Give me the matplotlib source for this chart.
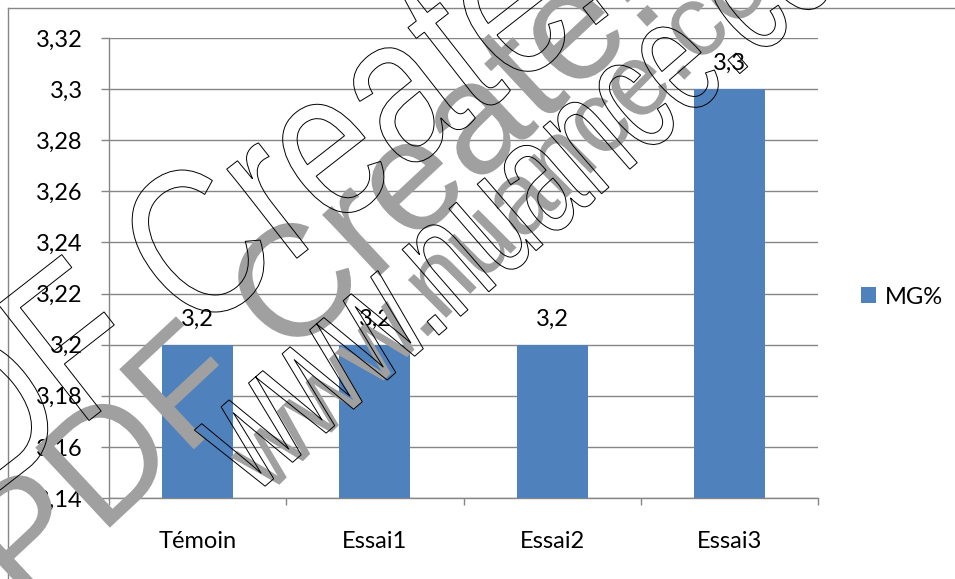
import matplotlib
matplotlib.use("Agg")
import matplotlib.pyplot as plt
from matplotlib.textpath import TextPath
from matplotlib.patches import PathPatch
from matplotlib.font_manager import FontProperties
from matplotlib.transforms import Affine2D, IdentityTransform
from matplotlib.lines import Line2D

# Chart data
categories = ["Témoin", "Essai1", "Essai2", "Essai3"]
mg_values = [3.2, 3.2, 3.2, 3.3]
series_name = "MG%"
y_ticks = [3.14, 3.16, 3.18, 3.20, 3.22, 3.24, 3.26, 3.28, 3.30, 3.32]

W, H, DPI = 955, 579, 100
GRAY = "#868686"
BLUE = "#4F81BD"
plt.rcParams["font.family"] = ["Lato", "DejaVu Sans"]
plt.rcParams["font.size"] = 17


def fr(v):
    s = f"{v:.2f}".rstrip("0").rstrip(".")
    return s.replace(".", ",")


fig = plt.figure(figsize=(W / DPI, H / DPI), dpi=DPI)
ax = fig.add_axes([109 / W, 1 - 498 / H, (818 - 109) / W, (498 - 38) / H])

xpos = list(range(len(categories)))
bars = ax.bar(xpos, mg_values, width=0.4, color=BLUE, zorder=3, label=series_name)
ax.bar_label(bars, labels=[fr(v) for v in mg_values], padding=11, fontsize=17)

ax.set_xlim(-0.5, len(categories) - 0.5)
ax.set_ylim(y_ticks[0], y_ticks[-1])
ax.set_yticks(y_ticks)
ax.set_yticklabels([fr(v) for v in y_ticks])
ax.set_xticks(xpos)
ax.set_xticklabels(categories)
ax.set_xticks([i - 0.5 for i in range(len(categories) + 1)], minor=True)

ax.yaxis.grid(True, color=GRAY, lw=1.0)
ax.set_axisbelow(True)
for side in ("top", "right"):
    ax.spines[side].set_visible(False)
for side in ("left", "bottom"):
    ax.spines[side].set_color(GRAY)
    ax.spines[side].set_linewidth(1.0)

ax.tick_params(axis="y", length=6, width=1.0, color=GRAY, pad=13)
ax.tick_params(axis="x", which="major", length=0, pad=24)
ax.tick_params(axis="x", which="minor", length=5, width=1.0, color=GRAY)

ax.legend(loc="center left", bbox_to_anchor=(861 / W, 1 - 297 / H),
          bbox_transform=fig.transFigure, frameon=False, borderpad=0,
          borderaxespad=0, handlelength=0.64, handleheight=0.64,
          handletextpad=0.35, fontsize=17)

# Outer chart border
fig.add_artist(Line2D([8 / W, 1.0], [1 - 8 / H, 1 - 8 / H], transform=fig.transFigure,
                      color=GRAY, lw=1.0))
fig.add_artist(Line2D([8 / W, 8 / W], [0.0, 1 - 8 / H], transform=fig.transFigure,
                      color=GRAY, lw=1.0))


# Stamp overlay
def stamp(text, center, em, angle, face, edge, lw, stretch=1.0):
    fp = FontProperties(family="Liberation Sans")
    tp = TextPath((0, 0), text, size=1, prop=fp)
    ext = tp.get_extents()
    cx = (ext.x0 + ext.x1) / 2
    cy = (ext.y0 + ext.y1) / 2
    tr = (Affine2D().translate(-cx, -cy).scale(em, em * stretch).rotate_deg(angle)
          .translate(center[0], H - center[1]))
    patch = PathPatch(tr.transform_path(tp), facecolor=face, edgecolor=edge,
                      lw=lw, transform=IdentityTransform(), zorder=10)
    fig.add_artist(patch)


stamp("PDF Create!", (308, 268), 159, 43, "#A0A0A0", "none", 0)
stamp("www.nuance.com", (530, 196), 102, 45, "#A0A0A0", "none", 0)
stamp("PDF Create!", (213, 230), 165, 38, "none", "black", 0.7, stretch=1.3)
stamp("www.nuance.com", (552, 178), 112, 41, "none", "black", 0.7, stretch=1.5)

fig.savefig("out.png", dpi=DPI)
